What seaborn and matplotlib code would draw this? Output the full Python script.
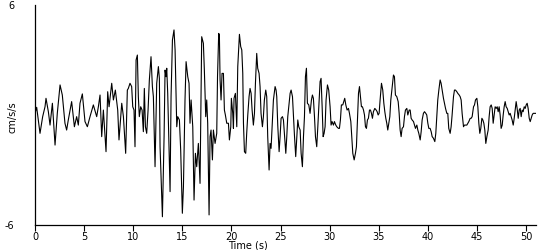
import matplotlib
matplotlib.use("Agg")
import matplotlib.pyplot as plt
import numpy as np
import pandas as pd
import seaborn as sns

# ---- data ----
t_part1 = [0.00, 0.17, 0.51, 0.78, 1.02, 1.12, 1.36, 1.53, 1.77, 2.04, 2.27, 2.55, 2.78, 3.05, 3.22,
           3.39, 3.73, 4.01, 4.24, 4.41, 4.58, 4.82, 5.09, 5.33, 5.60, 5.94, 6.28, 6.45, 6.62, 6.79,
           6.96, 7.23, 7.40, 7.54, 7.81, 7.98, 8.18, 8.42, 8.55, 8.83, 9.00, 9.23]
a_part1 = [0.09, 0.42, -1.00, -0.09, 0.45, 0.91, 0.18, -0.55, 0.64, -1.64, 0.09, 1.64, 1.09, -0.45, -0.82,
           -0.27, 0.73, -0.64, -0.09, -0.55, 0.64, 1.15, -0.36, -0.64, -0.09, 0.55, -0.09, 0.45, 1.09, -1.18,
           0.27, -2.00, 1.27, 0.45, 1.73, 0.82, 1.36, 0.27, -1.36, 0.64, -0.09, -2.09]

t_part2 = [9.40, 9.50, 9.67, 9.84, 9.95, 10.08, 10.18, 10.29, 10.42, 10.52, 10.62, 10.76, 10.90, 11.03, 11.13,
           11.24, 11.37, 11.51, 11.64, 11.81, 11.95, 12.05, 12.22, 12.39, 12.56, 12.66, 12.73, 12.97, 13.14, 13.24,
           13.34, 13.41, 13.51, 13.75, 13.85, 13.99, 14.15, 14.26, 14.43, 14.53, 14.70, 14.83, 15.00, 15.11, 15.27,
           15.38, 15.55, 15.68, 15.78, 15.89, 16.06, 16.19, 16.33, 16.46, 16.63, 16.80, 16.97, 17.14, 17.24, 17.38,
           17.48, 17.58, 17.72, 17.82, 17.92, 18.06, 18.16, 18.33, 18.50]
a_part2 = [1.36, 1.45, 1.73, 1.55, 0.45, 0.27, -1.73, 3.00, 3.27, 1.00, -0.09, 0.45, 0.27, -0.91, 1.45,
           -0.64, -1.00, 0.27, 1.91, 3.18, 1.55, 1.00, -2.82, 1.73, 2.64, 2.00, -1.73, -5.55, -1.18, 2.45,
           2.09, 2.55, 1.18, -4.18, 1.00, 4.09, 4.64, 3.55, -0.64, -0.09, -0.27, -1.91, -5.36, -3.91, 0.82,
           2.91, 2.09, 1.73, -0.45, 0.82, -0.64, -4.64, -2.09, -2.82, -1.55, -3.73, 4.27, 3.91, 2.45, -0.09,
           0.82, -0.45, -5.45, -1.18, -0.82, -2.45, -0.82, -1.55, -1.00]

t_part3 = [18.58, 18.70, 18.77, 18.84, 18.94, 19.04, 19.18, 19.28, 19.38, 19.52, 19.69, 19.79, 19.93, 19.99, 20.13,
           20.20, 20.26, 20.40, 20.54, 20.64, 20.81, 20.94, 21.05, 21.15, 21.22, 21.32, 21.45, 21.55, 21.66, 21.79,
           21.89, 22.00, 22.10, 22.23, 22.34, 22.44, 22.57, 22.67, 22.81, 22.91, 23.01, 23.15, 23.25, 23.35, 23.49,
           23.59, 23.69, 23.83, 23.93, 24.03, 24.17, 24.27, 24.44, 24.54, 24.61, 24.71, 24.85, 24.95, 25.05, 25.19,
           25.29, 25.39, 25.53, 25.63, 25.73, 25.87, 25.97, 26.07, 26.21, 26.31, 26.41, 26.54, 26.65, 26.75, 26.85,
           26.99]
a_part3 = [2.10, 4.45, 4.36, 1.91, 0.82, 2.27, 2.27, 0.27, 0.00, -0.45, -0.45, -1.36, -0.64, 0.91, 0.09,
           -0.73, 0.91, 1.18, -0.64, 2.64, 4.40, 3.73, 3.55, 2.27, -0.45, -2.00, -2.09, -1.00, 0.00, 1.00,
           1.45, 1.18, 0.27, -0.55, 0.09, 1.73, 3.36, 2.55, 2.27, 1.55, 0.09, -0.64, -0.09, 0.82, 1.36,
           1.00, -1.18, -3.00, -1.55, -1.82, -0.27, 0.82, 1.55, 1.36, 1.00, -0.55, -2.00, -1.18, -0.18, -0.09,
           -0.27, -1.00, -2.09, -1.18, -0.09, 0.64, 1.18, 1.36, 1.00, -0.09, -1.09, -2.27, -1.18, -0.27, -0.64,
           -0.82]

t_part4 = [27.09, 27.22, 27.33, 27.43, 27.53, 27.63, 27.73, 27.87, 28.00, 28.14, 28.24, 28.34, 28.45, 28.55, 28.68,
           28.79, 28.92, 29.02, 29.12, 29.23, 29.33, 29.43, 29.53, 29.63, 29.77, 29.90, 30.04, 30.14, 30.24, 30.38,
           30.48, 30.62, 30.72, 30.89, 30.99, 31.09, 31.19, 31.33, 31.43, 31.53, 31.64, 31.77, 31.91, 32.01, 32.15,
           32.25, 32.35, 32.49, 32.62, 32.72, 32.82, 32.93, 33.03, 33.13, 33.23, 33.33, 33.44, 33.54, 33.64, 33.74,
           33.84, 33.94, 34.05, 34.15, 34.25, 34.35, 34.45, 34.59, 34.73, 34.83, 34.93, 35.03, 35.13, 35.27, 35.40,
           35.51, 35.61, 35.71, 35.81, 35.91, 36.02, 36.12, 36.22, 36.35, 36.49, 36.59, 36.69, 36.83, 36.97, 37.07]
a_part4 = [-2.09, -2.82, -1.18, -0.09, 2.09, 2.55, 0.64, 0.55, 0.09, 0.82, 1.09, 0.91, -0.09, -1.18, -1.73,
           -0.64, 0.82, 1.82, 2.00, 0.45, -1.18, -1.00, -0.64, 0.82, 1.64, 1.36, 0.45, -0.55, -0.36, -0.55,
           -0.36, -0.55, -0.64, -0.73, -0.73, -0.27, 0.55, 0.55, 0.73, 0.91, 0.55, 0.27, 0.36, 0.09, -0.36,
           -1.18, -2.09, -2.45, -2.09, -1.73, -0.27, 1.18, 1.55, 1.00, 0.45, 0.45, 0.27, 0.00, -0.64, -0.73,
           -0.27, -0.18, 0.27, 0.27, 0.09, -0.18, 0.18, 0.36, 0.27, 0.18, 0.00, 0.09, 0.82, 1.73, 1.36,
           0.64, 0.18, -0.18, -0.45, -0.82, -0.45, -0.09, 0.82, 1.45, 2.18, 2.09, 1.09, 1.00, 0.73, 0.09]

t_part5 = [37.17, 37.27, 37.37, 37.51, 37.61, 37.71, 37.85, 37.95, 38.09, 38.19, 38.29, 38.39, 38.53, 38.63, 38.73,
           38.87, 38.97, 39.07, 39.21, 39.31, 39.41, 39.54, 39.65, 39.78, 39.88, 39.99, 40.09, 40.22, 40.33, 40.43,
           40.56, 40.70, 40.80, 40.90, 41.00, 41.11, 41.24, 41.34, 41.45, 41.58, 41.68, 41.79, 41.92, 42.02, 42.12,
           42.26, 42.36, 42.46, 42.60, 42.70, 42.80, 42.94, 43.04, 43.18, 43.28, 43.38, 43.48, 43.62, 43.72, 43.82,
           43.96, 44.06, 44.16, 44.30, 44.40, 44.50, 44.64, 44.74, 44.84, 44.98, 45.08, 45.18, 45.28, 45.38, 45.49,
           45.59, 45.69, 45.79, 45.89, 46.00]
a_part5 = [-0.82, -1.18, -0.73, -0.64, -0.09, 0.27, 0.36, 0.00, 0.27, 0.27, -0.18, -0.27, -0.36, -0.55, -0.73,
           -0.55, -0.82, -1.00, -1.36, -0.91, -0.27, 0.09, 0.18, 0.09, 0.00, -0.45, -0.73, -0.73, -0.91, -1.18,
           -1.27, -1.45, -1.00, -0.09, 0.82, 1.36, 1.91, 1.73, 1.36, 0.91, 0.64, 0.36, 0.09, 0.09, -0.73,
           -1.00, -0.64, 0.00, 1.00, 1.36, 1.36, 1.27, 1.18, 1.09, 1.00, 0.82, 0.09, -0.64, -0.55, -0.55,
           -0.55, -0.45, -0.36, -0.18, -0.18, -0.09, 0.45, 0.55, 0.82, 0.91, 0.45, -0.45, -1.00, -0.73, -0.18,
           -0.27, -0.45, -0.82, -1.55, -1.18]

t_part6 = [46.13, 46.23, 46.33, 46.44, 46.54, 46.64, 46.74, 46.84, 46.95, 47.05, 47.15, 47.25, 47.35, 47.45, 47.56,
           47.66, 47.76, 47.86, 47.96, 48.07, 48.17, 48.27, 48.37, 48.47, 48.57, 48.68, 48.78, 48.88, 48.98, 49.08,
           49.19, 49.29, 49.39, 49.49, 49.59, 49.69, 49.80, 49.90, 50.00, 50.10, 50.20, 50.31, 50.41, 50.51, 50.61,
           50.71, 51.02]
a_part6 = [-0.82, -0.09, 0.45, 0.55, 0.36, -0.45, 0.00, 0.45, 0.36, 0.45, 0.18, 0.45, 0.00, -0.73, -0.55,
           0.00, 0.45, 0.73, 0.45, 0.36, 0.18, 0.00, 0.09, -0.09, -0.27, -0.55, -0.18, 0.27, 0.73, 0.36,
           -0.18, 0.27, 0.36, -0.09, 0.27, 0.18, 0.45, 0.36, 0.55, 0.64, 0.36, -0.18, -0.36, -0.18, 0.00,
           0.09, 0.09]

x_tick_values = [0, 5, 10, 15, 20, 25, 30, 35, 40, 45, 50]
y_tick_values = [-6, 6]
x_label = "Time (s)"
y_label = "cm/s/s"

t_parts = [t_part1, t_part2, t_part3, t_part4, t_part5, t_part6]
a_parts = [a_part1, a_part2, a_part3, a_part4, a_part5, a_part6]
for tp, ap in zip(t_parts, a_parts):
    assert len(tp) == len(ap), (len(tp), len(ap))

df = pd.DataFrame({
    x_label: np.concatenate(t_parts),
    y_label: np.concatenate(a_parts),
})

# ---- plot ----
sns.set_theme(style="ticks")
plt.rcParams["font.family"] = ["DejaVu Sans"]

fig = plt.figure(figsize=(5.5, 2.5), dpi=100)
fig.patch.set_facecolor("white")
ax = fig.add_axes([35 / 550, 25 / 250, 501 / 550, 220 / 250])
ax.set_facecolor("white")

sns.lineplot(data=df, x=x_label, y=y_label, ax=ax, color="black",
             linewidth=0.8, sort=False, estimator=None)

ax.set_xlim(0, 51.0)
ax.set_ylim(-6, 6)
ax.set_xticks(x_tick_values)
ax.set_yticks(y_tick_values)
ax.set_yticklabels([str(v) for v in y_tick_values])

sns.despine(ax=ax)
for side in ("left", "bottom"):
    ax.spines[side].set_color("black")
    ax.spines[side].set_linewidth(0.9)

ax.tick_params(axis="y", length=0, pad=15, labelsize=7, colors="black")
ax.tick_params(axis="x", length=4, width=0.8, pad=1, labelsize=7,
               direction="out", colors="black")

ax.set_xlabel(x_label, fontsize=7, color="black")
ax.xaxis.set_label_coords(0.425, -0.072)
ax.set_ylabel(y_label, fontsize=7, color="black")
ax.yaxis.set_label_coords(-0.034, 0.49)

fig.savefig("out.png", dpi=100, facecolor="white")
